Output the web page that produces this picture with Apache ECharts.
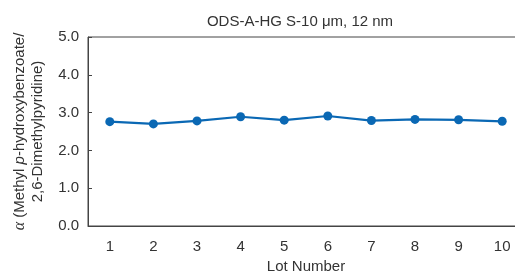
<!DOCTYPE html>
<html><head><meta charset="utf-8">
<script src="https://cdn.jsdelivr.net/npm/echarts@6/dist/echarts.min.js"></script>
<style>html,body{margin:0;padding:0;background:#fff}#c{width:515px;height:274px}</style>
</head><body><div id="c"></div>
<script>
const categories = ['1','2','3','4','5','6','7','8','9','10'];
const alphaValues = [2.76, 2.70, 2.78, 2.89, 2.80, 2.91, 2.79, 2.82, 2.81, 2.77];
const yTicks = [0, 1, 2, 3, 4, 5];
const titleText = 'ODS-A-HG S-10 μm, 12 nm';
const xName = 'Lot Number';

const FONT = '"Liberation Sans", Arial, Helvetica, sans-serif';
const chart = echarts.init(document.getElementById('c'), null, {renderer: 'canvas'});
chart.setOption({
  animation: false,
  title: {text: titleText, left: 295, top: 9, textAlign: 'center',
    textStyle: {fontFamily: FONT, fontSize: 15, fontWeight: 'normal', color: '#333'}},
  grid: {left: 88, top: 37, width: 436, height: 189, show: true, borderColor: '#444', borderWidth: 1,
    backgroundColor: 'transparent', outerBoundsMode: 'none', containLabel: false},
  xAxis: {type: 'category', data: categories, boundaryGap: true,
    name: xName, nameLocation: 'middle', nameGap: 33,
    nameTextStyle: {fontFamily: FONT, fontSize: 15, color: '#333'},
    axisLine: {lineStyle: {color: '#444', width: 1}},
    axisTick: {inside: true, length: 5, lineStyle: {color: '#444'}},
    axisLabel: {fontFamily: FONT, fontSize: 15, color: '#333', margin: 13}},
  yAxis: {type: 'value', min: yTicks[0], max: yTicks[yTicks.length-1], interval: 1,
    name: '{a|α} (Methyl {i|p}-hydroxybenzoate/\n2,6-Dimethylpyridine)',
    nameLocation: 'middle', nameGap: 41, nameRotate: 90,
    nameTextStyle: {fontFamily: FONT, fontSize: 15, color: '#333', lineHeight: 18,
      rich: {a: {fontFamily: '"Liberation Serif", "DejaVu Serif", serif', fontStyle: 'italic', fontSize: 16, color: '#333', lineHeight: 18},
             i: {fontFamily: FONT, fontStyle: 'italic', fontSize: 15, color: '#333', lineHeight: 18}}},
    splitLine: {show: false},
    axisLine: {show: true, lineStyle: {color: '#444', width: 1}},
    axisTick: {show: true, inside: true, length: 4, lineStyle: {color: '#444'}},
    axisLabel: {fontFamily: FONT, fontSize: 15, color: '#333', margin: 9,
      formatter: v => v.toFixed(1)}},
  series: [{type: 'line', data: alphaValues, symbol: 'circle', symbolSize: 9,
    lineStyle: {color: '#0a68b4', width: 2.2}, itemStyle: {color: '#0a68b4'}}]
});
</script></body></html>
